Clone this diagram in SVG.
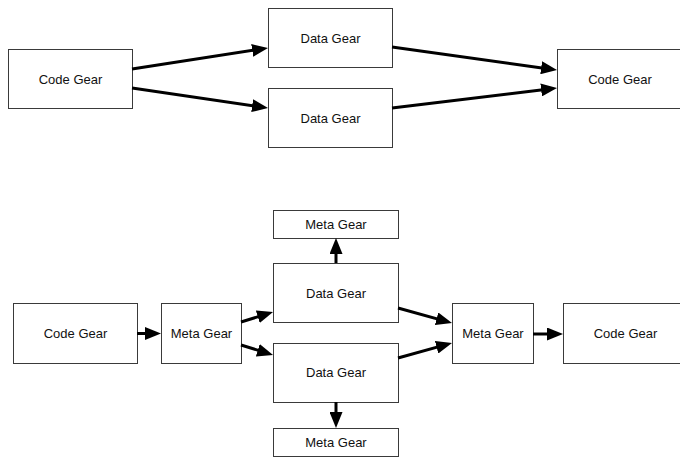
<svg xmlns="http://www.w3.org/2000/svg" width="680" height="457" viewBox="0 0 680 457">
<style>
.box{fill:#fff;stroke:#3a3a3a;stroke-width:1}
.lbl{font-family:"Liberation Sans",Arial,sans-serif;font-size:13px;fill:#111;text-anchor:middle}
.edge{stroke:#000;stroke-width:3;fill:none;marker-end:url(#ah)}
</style>
<defs>
<marker id="ah" markerUnits="userSpaceOnUse" markerWidth="16" markerHeight="13" refX="8" refY="6.5" orient="auto">
<path d="M0,0 L16,6.5 L0,13 z" fill="#000"/>
</marker>
</defs>
<rect width="680" height="457" fill="#fff"/>
<g id="top-code1"><rect class="box" x="8.5" y="49.5" width="124" height="59"/><text class="lbl" x="70.5" y="83.5">Code Gear</text></g>
<g id="top-data1"><rect class="box" x="268.5" y="8.5" width="124" height="59"/><text class="lbl" x="330.5" y="42.5">Data Gear</text></g>
<g id="top-data2"><rect class="box" x="268.5" y="88.5" width="124" height="59"/><text class="lbl" x="330.5" y="122.5">Data Gear</text></g>
<g id="top-code2"><rect class="box" x="557.5" y="49.5" width="125" height="59"/><text class="lbl" x="620" y="83.5">Code Gear</text></g>

<g id="bot-code1"><rect class="box" x="13.5" y="303.5" width="124" height="60"/><text class="lbl" x="75.5" y="338">Code Gear</text></g>
<g id="bot-meta1"><rect class="box" x="161.5" y="303.5" width="80" height="60"/><text class="lbl" x="201.5" y="338">Meta Gear</text></g>
<g id="bot-meta-top"><rect class="box" x="273.5" y="210.5" width="125" height="28"/><text class="lbl" x="336" y="229">Meta Gear</text></g>
<g id="bot-data1"><rect class="box" x="273.5" y="263.5" width="125" height="59"/><text class="lbl" x="336" y="298">Data Gear</text></g>
<g id="bot-data2"><rect class="box" x="273.5" y="343.5" width="125" height="59"/><text class="lbl" x="336" y="377">Data Gear</text></g>
<g id="bot-meta-bot"><rect class="box" x="273.5" y="428.5" width="125" height="28"/><text class="lbl" x="336" y="447">Meta Gear</text></g>
<g id="bot-meta2"><rect class="box" x="452.5" y="303.5" width="81" height="60"/><text class="lbl" x="493" y="338">Meta Gear</text></g>
<g id="bot-code2"><rect class="box" x="563.5" y="303.5" width="124" height="60"/><text class="lbl" x="625.5" y="338">Code Gear</text></g>

<g id="connectors">
<line class="edge" x1="132" y1="69" x2="260.1" y2="49.2"/>
<line class="edge" x1="132" y1="88" x2="260.1" y2="106.8"/>
<line class="edge" x1="392" y1="47" x2="549.1" y2="68.9"/>
<line class="edge" x1="392" y1="108" x2="549.1" y2="89"/>
<line class="edge" x1="137" y1="333.5" x2="153" y2="333.5"/>
<line class="edge" x1="241" y1="322" x2="265.4" y2="314.4"/>
<line class="edge" x1="241" y1="345" x2="265.4" y2="352.6"/>
<line class="edge" x1="398" y1="308" x2="444.3" y2="320.9"/>
<line class="edge" x1="398" y1="358" x2="444.3" y2="345.1"/>
<line class="edge" x1="533" y1="334" x2="555" y2="334"/>
<line class="edge" x1="336" y1="263" x2="336" y2="246"/>
<line class="edge" x1="336" y1="402" x2="336" y2="420"/>
</g>
</svg>
